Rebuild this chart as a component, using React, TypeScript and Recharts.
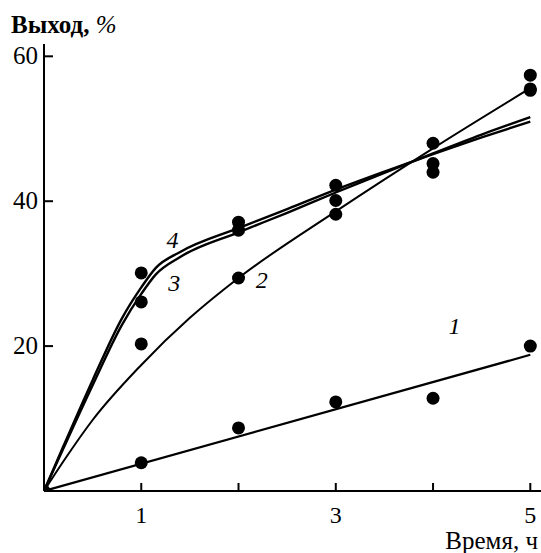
import React from "react";
import {
  ComposedChart,
  Line,
  Scatter,
  XAxis,
  YAxis,
  ReferenceDot,
} from "recharts";

// measured points (time, h -> yield, %)
const points1 = [
  { x: 0, y: 0 },
  { x: 1, y: 3.9 },
  { x: 2, y: 8.7 },
  { x: 3, y: 12.3 },
  { x: 4, y: 12.8 },
  { x: 5, y: 20.0 },
];
const points2 = [
  { x: 1, y: 20.3 },
  { x: 2, y: 29.4 },
  { x: 3, y: 38.2 },
  { x: 4, y: 48.0 },
  { x: 5, y: 55.3 },
];
const points3 = [
  { x: 1, y: 26.1 },
  { x: 2, y: 36.0 },
  { x: 3, y: 40.1 },
  { x: 4, y: 45.2 },
  { x: 5, y: 55.5 },
];
const points4 = [
  { x: 1, y: 30.1 },
  { x: 2, y: 37.1 },
  { x: 3, y: 42.2 },
  { x: 4, y: 44.0 },
  { x: 5, y: 57.4 },
];

// fitted curves
const curve1 = [
  { x: 0, y: 0 },
  { x: 5, y: 18.8 },
];
const curve2 = [
  { x: 0, y: 0 },
  { x: 0.2, y: 4.1 },
  { x: 0.5, y: 9.8 },
  { x: 1, y: 17.4 },
  { x: 1.5, y: 23.9 },
  { x: 2, y: 29.4 },
  { x: 3, y: 38.6 },
  { x: 4, y: 47.3 },
  { x: 5, y: 55.6 },
];
const curve3 = [
  { x: 0, y: 0 },
  { x: 0.2, y: 5.9 },
  { x: 0.5, y: 14.6 },
  { x: 0.8, y: 22.9 },
  { x: 1, y: 27.2 },
  { x: 1.15, y: 29.9 },
  { x: 1.4, y: 32.3 },
  { x: 2, y: 35.7 },
  { x: 2.5, y: 38.4 },
  { x: 3, y: 41.2 },
  { x: 3.5, y: 43.9 },
  { x: 4, y: 46.6 },
  { x: 4.5, y: 49.2 },
  { x: 5, y: 51.6 },
];
const curve4 = [
  { x: 0, y: 0 },
  { x: 0.2, y: 6.2 },
  { x: 0.5, y: 15.3 },
  { x: 0.8, y: 23.8 },
  { x: 1, y: 28.1 },
  { x: 1.15, y: 30.8 },
  { x: 1.4, y: 33.0 },
  { x: 2, y: 36.3 },
  { x: 2.5, y: 38.9 },
  { x: 3, y: 41.6 },
  { x: 3.5, y: 44.1 },
  { x: 4, y: 46.5 },
  { x: 4.5, y: 48.8 },
  { x: 5, y: 51.0 },
];

const xTicks = [1, 2, 3, 4, 5];
const xLabelled = [1, 3, 5];
const yTicks = [20, 40, 60];

const curveLabels = [
  { x: 1.32, y: 34.6, text: "4" },
  { x: 1.34, y: 28.7, text: "3" },
  { x: 2.24, y: 29.1, text: "2" },
  { x: 4.22, y: 22.8, text: "1" },
];

const FONT = "Liberation Serif";

const Dot = (props: any) => (
  <circle cx={props.cx} cy={props.cy} r={6.5} fill="#000" />
);

const XTick = (props: any) => {
  const { x, y, payload } = props;
  return (
    <g>
      <line x1={x} x2={x} y1={y} y2={y - 8} stroke="#000" strokeWidth={2} />
      {xLabelled.includes(payload.value) && (
        <text x={x} y={y + 32} textAnchor="middle" fontSize={24} fontFamily={FONT} fill="#000">
          {payload.value}
        </text>
      )}
    </g>
  );
};

const YTick = (props: any) => {
  const { x, y, payload } = props;
  return (
    <g>
      <line x1={x} x2={x + 9} y1={y} y2={y} stroke="#000" strokeWidth={2} />
      <text x={x - 6} y={y + 8} textAnchor="end" fontSize={25} fontFamily={FONT} fill="#000">
        {payload.value}
      </text>
    </g>
  );
};

const CurveLabel = (text: string) => (props: any) => {
  const { viewBox } = props;
  return (
    <text
      x={viewBox.x}
      y={viewBox.y + 8}
      textAnchor="middle"
      fontSize={24}
      fontStyle="italic"
      fontFamily={FONT}
      fill="#000"
    >
      {text}
    </text>
  );
};

export default function App() {
  return (
    <div style={{ position: "absolute", left: 0, top: 0, width: 541, height: 553, background: "#fff" }}>
      <ComposedChart
        width={541}
        height={553}
        margin={{ top: 44, right: 0, bottom: 32, left: 0 }}
      >
        <XAxis
          dataKey="x"
          type="number"
          domain={[0, 5.11]}
          ticks={xTicks}
          tickSize={0}
          tickMargin={0}
          tickLine={false}
          tick={<XTick />}
          axisLine={{ stroke: "#000", strokeWidth: 2 }}
          height={30}
          allowDataOverflow
        />
        <YAxis
          type="number"
          domain={[0, 61.7]}
          ticks={yTicks}
          tickSize={0}
          tickMargin={0}
          tickLine={false}
          tick={<YTick />}
          axisLine={{ stroke: "#000", strokeWidth: 2 }}
          width={44}
          allowDataOverflow
        />
        <Line data={curve1} dataKey="y" type="linear" stroke="#000" strokeWidth={2.2} dot={false} isAnimationActive={false} />
        <Line data={curve2} dataKey="y" type="monotone" stroke="#000" strokeWidth={2} dot={false} isAnimationActive={false} />
        <Line data={curve3} dataKey="y" type="monotone" stroke="#000" strokeWidth={2.4} dot={false} isAnimationActive={false} />
        <Line data={curve4} dataKey="y" type="monotone" stroke="#000" strokeWidth={2.4} dot={false} isAnimationActive={false} />
        <Scatter data={points1} dataKey="y" shape={Dot} isAnimationActive={false} />
        <Scatter data={points2} dataKey="y" shape={Dot} isAnimationActive={false} />
        <Scatter data={points3} dataKey="y" shape={Dot} isAnimationActive={false} />
        <Scatter data={points4} dataKey="y" shape={Dot} isAnimationActive={false} />
        {curveLabels.map((l) => (
          <ReferenceDot
            key={l.text}
            x={l.x}
            y={l.y}
            r={0}
            stroke="none"
            fill="none"
            label={CurveLabel(l.text)}
          />
        ))}
        <text x={11} y={33} fontSize={25} fontWeight="bold" fontFamily={FONT} fill="#000">
          Выход, <tspan fontStyle="italic" fontWeight="normal">%</tspan>
        </text>
        <text x={538} y={549} textAnchor="end" fontSize={25} fontFamily={FONT} fill="#000">
          Время, ч
        </text>
      </ComposedChart>
    </div>
  );
}
